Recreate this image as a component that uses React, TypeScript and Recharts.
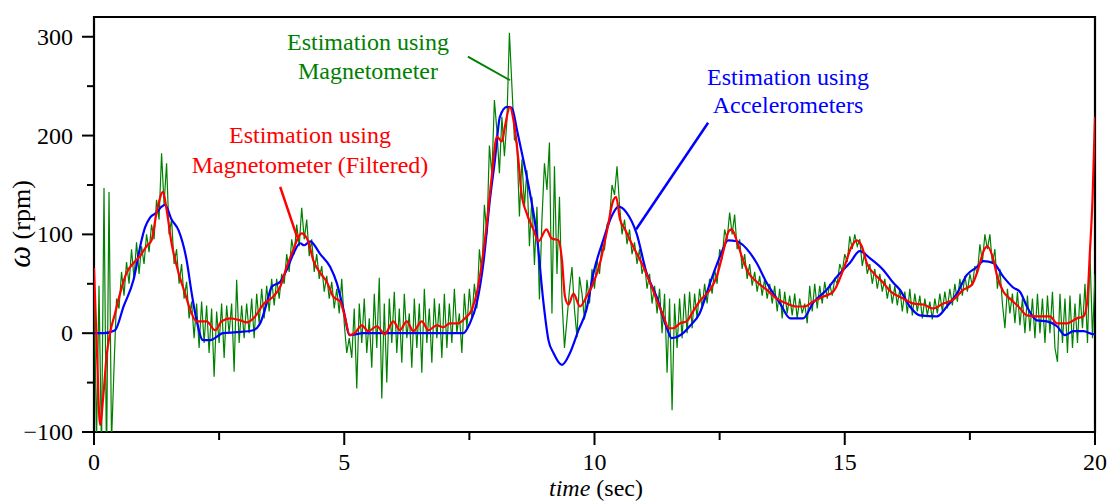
import React from 'react';
import { LineChart, Line, XAxis, YAxis, ReferenceArea, ReferenceLine } from 'recharts';

// Raw magnetometer estimate, sampled every 0.05 s (one array per second of record)
const SAMPLE_STEP = 0.05;
const magRaw00 = [60, -110, 48, -120, 147, -130, 143, -110, -35, 35, 25, 62, 38, 72, 50, 85, 55, 92, 60, 88];
const magRaw01 = [70, 100, 82, 110, 95, 135, 115, 182, 130, 172, 100, 115, 70, 85, 50, 70, 35, 52, 15, 32];
const magRaw02 = [-5, 30, -15, 32, -10, 28, -20, 25, -44, 22, -10, 30, -25, 28, 0, 30, -39, 54, -10, 28];
const magRaw03 = [-5, 30, 0, 35, -5, 40, 10, 45, 15, 48, 22, 55, 28, 55, 35, 60, 50, 80, 62, 95];
const magRaw04 = [80, 110, 88, 127, 95, 115, 78, 95, 62, 80, 55, 68, 42, 58, 35, 52, 25, 45, 20, 55];
const magRaw05 = [10, -20, -5, -25, 25, -56, 30, -10, 35, -20, 15, -35, 40, -15, 56, -66, 30, -50, 35, -10];
const magRaw06 = [42, -20, 25, -30, 40, -5, 20, -35, 35, -15, 30, -40, 45, -10, 25, -30, 35, -5, 30, -25];
const magRaw07 = [40, -15, 30, -10, 45, 0, 20, -20, 40, 5, 45, 15, 50, 25, 85, 60, 130, 100, 190, 160];
const magRaw08 = [236, 205, 162, 219, 179, 215, 304, 250, 196, 193, 118, 176, 128, 165, 88, 138, 69, 128, 34, 115];
const magRaw09 = [172, 145, 193, 20, 169, 60, 138, 34, -15, 14, 44, 67, 24, -4, 57, 40, 14, 54, 30, 65];
const magRaw10 = [45, 75, 60, 90, 85, 110, 115, 150, 140, 169, 130, 100, 115, 90, 105, 80, 92, 70, 85, 60];
const magRaw11 = [70, 45, 60, 30, 48, 20, 45, 0, 40, -40, 35, -78, 30, -15, 35, -5, 40, 0, 42, 5];
const magRaw12 = [40, 15, 45, 25, 50, 30, 55, 40, 65, 50, 85, 75, 105, 95, 122, 100, 120, 85, 95, 65];
const magRaw13 = [80, 55, 70, 48, 62, 42, 58, 38, 55, 35, 50, 30, 48, 22, 45, 15, 42, 20, 38, 18];
const magRaw14 = [40, 15, 35, 20, 30, 10, 48, 22, 50, 25, 48, 30, 52, 35, 50, 38, 55, 50, 70, 62];
const magRaw15 = [80, 72, 98, 85, 100, 88, 95, 68, 82, 60, 70, 50, 65, 45, 60, 42, 55, 35, 50, 30];
const magRaw16 = [48, 28, 45, 22, 42, 20, 45, 18, 40, 22, 38, 15, 35, 18, 32, 14, 35, 20, 40, 22];
const magRaw17 = [42, 25, 45, 28, 50, 32, 55, 38, 58, 42, 60, 48, 68, 60, 90, 72, 100, 85, 100, 70];
const magRaw18 = [85, 45, 65, 30, 5, 45, 20, 40, 10, 42, 8, 35, 0, 38, 2, 35, -5, 40, 0, 35];
const magRaw19 = [-10, 38, 0, 42, -15, -29, 40, -10, 35, -20, 38, -15, 30, -10, 40, 5, 50, -10, 81, -5];
const magRawFinal = 60;

// Filtered magnetometer estimate
const filtTime = [
  0, 0.06, 0.12, 0.19, 0.25, 0.32, 0.42, 0.52, 0.65, 0.79, 0.92, 1.05, 1.15, 1.25, 1.38, 1.45, 1.55, 1.69, 1.82, 1.92,
  2.05, 2.25, 2.42, 2.55, 2.72, 2.92, 3.05, 3.22, 3.38, 3.58, 3.72, 3.85, 3.98, 4.08, 4.15, 4.28, 4.38, 4.52, 4.65, 4.78,
  4.92, 5.01, 5.11, 5.21, 5.35, 5.48, 5.65, 5.81, 5.98, 6.11, 6.25, 6.38, 6.55, 6.68, 6.85, 6.98, 7.11, 7.28, 7.41, 7.55,
  7.65, 7.75, 7.85, 7.95, 8.05, 8.15, 8.21, 8.31, 8.38, 8.48, 8.54, 8.64, 8.78, 8.88, 9.04, 9.14, 9.28, 9.35, 9.41, 9.48,
  9.58, 9.71, 9.84, 9.98, 10.11, 10.24, 10.38, 10.43, 10.51, 10.61, 10.71, 10.84, 10.98, 11.11, 11.24, 11.38, 11.48, 11.57, 11.71, 11.84,
  11.97, 12.11, 12.31, 12.44, 12.58, 12.68, 12.74, 12.84, 12.94, 13.08, 13.24, 13.44, 13.64, 13.84, 14.04, 14.2, 14.37, 14.57, 14.77, 14.97,
  15.14, 15.24, 15.34, 15.44, 15.61, 15.77, 15.9, 16.17, 16.37, 16.57, 16.77, 16.97, 17.17, 17.37, 17.54, 17.68, 17.78, 17.85, 17.95, 18.05,
  18.17, 18.3, 18.47, 18.64, 18.84, 19.1, 19.24, 19.44, 19.64, 19.77, 19.84, 19.9, 19.95, 20,
];
const filtOmega = [
  66, -20, -93, -61, -24, 0, 20, 40, 61, 71, 78, 88, 94, 122, 143, 125, 91, 61, 40, 24,
  12, 12, 3, 12, 15, 13, 11, 17, 29, 37, 47, 67, 84, 97, 101, 93, 74, 61, 52, 37,
  32, 17, -2, 0, 8, 2, 7, -1, 12, 3, 12, 2, 12, 3, 8, 6, 10, 10, 15, 24,
  41, 71, 112, 160, 199, 194, 209, 229, 216, 175, 142, 122, 105, 93, 105, 96, 94, 74, 37, 29,
  40, 27, 37, 51, 71, 101, 135, 138, 115, 105, 94, 81, 67, 51, 34, 17, 5, 5, 10, 12,
  22, 33, 44, 57, 84, 103, 105, 94, 78, 61, 52, 44, 35, 30, 27, 27, 32, 37, 42, 64,
  88, 94, 88, 71, 59, 51, 43, 35, 30, 29, 25, 30, 34, 44, 49, 67, 84, 88, 78, 57,
  42, 35, 27, 18, 17, 17, 10, 10, 15, 17, 30, 84, 135, 219,
];

// Accelerometer-based estimate
const accTime = [
  0, 0.2, 0.42, 0.59, 0.79, 0.95, 1.02, 1.12, 1.25, 1.35, 1.42, 1.55, 1.69, 1.85, 1.95, 2.05, 2.18, 2.32, 2.58, 2.85,
  3.18, 3.32, 3.45, 3.55, 3.72, 3.85, 3.98, 4.12, 4.2, 4.32, 4.52, 4.72, 4.85, 4.98, 5.11, 5.38, 6, 6.5, 7, 7.38,
  7.51, 7.65, 7.78, 7.91, 8.01, 8.11, 8.25, 8.35, 8.45, 8.58, 8.71, 8.85, 8.98, 9.08, 9.18, 9.35, 9.51, 9.68, 9.84, 9.98,
  10.18, 10.34, 10.48, 10.64, 10.84, 11.04, 11.24, 11.44, 11.54, 11.77, 11.9, 12.1, 12.31, 12.51, 12.67, 12.84, 13.11, 13.24, 13.44, 13.71,
  13.91, 14.17, 14.37, 14.64, 14.84, 15.1, 15.3, 15.5, 15.77, 15.97, 16.1, 16.3, 16.5, 16.84, 17.04, 17.24, 17.44, 17.64, 17.77, 17.97,
  18.17, 18.37, 18.5, 18.64, 18.84, 19.04, 19.24, 19.4, 19.57, 19.77, 19.97, 20,
];
const accOmega = [
  0, 0, 3, 27, 54, 94, 107, 117, 122, 128, 130, 115, 104, 74, 41, 13, -7, -7, 0, 1,
  3, 10, 30, 47, 52, 64, 80, 91, 89, 93, 80, 67, 51, 25, -2, 0, 0, 0, 0, 0,
  10, 31, 71, 135, 175, 219, 229, 228, 206, 175, 142, 98, 31, -7, -20, -32, -20, 3, 24, 61,
  95, 118, 128, 122, 101, 61, 37, 6, -5, 0, 7, 20, 51, 78, 94, 93, 81, 71, 51, 30,
  15, 15, 31, 44, 57, 71, 83, 76, 64, 51, 44, 27, 18, 17, 27, 40, 59, 67, 73, 71,
  57, 46, 42, 27, 13, 12, 7, -2, 2, 2, -1, -1,
];

// Axis ticks
const xTicks = [0, 2.5, 5, 7.5, 10, 12.5, 15, 17.5, 20];
const xMajorTicks = [0, 5, 10, 15, 20];
const yTicks = [-100, -50, 0, 50, 100, 150, 200, 250, 300];
const yMajorTicks = [-100, 0, 100, 200, 300];

const magRawSeconds = [
  magRaw00, magRaw01, magRaw02, magRaw03, magRaw04, magRaw05, magRaw06, magRaw07, magRaw08, magRaw09,
  magRaw10, magRaw11, magRaw12, magRaw13, magRaw14, magRaw15, magRaw16, magRaw17, magRaw18, magRaw19,
];
const rawData = magRawSeconds.flatMap((arr, s) =>
  arr.map((w, i) => ({ t: Math.round((s + i * SAMPLE_STEP) * 100) / 100, w }))
);
rawData.push({ t: 20, w: magRawFinal });
const filtData = filtTime.map((t, i) => ({ t, w: filtOmega[i] }));
const accData = accTime.map((t, i) => ({ t, w: accOmega[i] }));

const FONT = '"Liberation Serif", "Times New Roman", Times, serif';
const GREEN = '#008000';
const RED = '#ff0000';
const BLUE = '#0000ff';

const fmt = (v: number) => (v < 0 ? `\u2212${Math.abs(v)}` : `${v}`);

const XTick = (props: any) => {
  const { x, y, payload } = props;
  const major = xMajorTicks.includes(payload.value);
  return (
    <g>
      <line x1={x} x2={x} y1={y} y2={y + (major ? 13 : 8)} stroke="#000" strokeWidth={2} />
      {major && (
        <text x={x} y={y + 38} textAnchor="middle" fontFamily={FONT} fontSize={24} fill="#000">
          {fmt(payload.value)}
        </text>
      )}
    </g>
  );
};

const YTick = (props: any) => {
  const { x, y, payload } = props;
  const major = yMajorTicks.includes(payload.value);
  return (
    <g>
      <line x1={x - (major ? 12 : 7)} x2={x} y1={y} y2={y} stroke="#000" strokeWidth={2} />
      {major && (
        <text x={x - 21} y={y + 8} textAnchor="end" fontFamily={FONT} fontSize={24} fill="#000">
          {fmt(payload.value)}
        </text>
      )}
    </g>
  );
};

export default function App() {
  return (
    <div style={{ position: 'absolute', left: 0, top: 0, width: 1107, height: 502, background: '#fff' }}>
      <LineChart width={1107} height={502} margin={{ top: 17, right: 12, bottom: 0, left: 0 }}>
        <XAxis
          dataKey="t"
          type="number"
          domain={[0, 20]}
          ticks={xTicks}
          interval={0}
          allowDataOverflow
          axisLine={false}
          tickLine={false}
          tickSize={0}
          tickMargin={0}
          height={70}
          tick={<XTick />}
        />
        <YAxis
          type="number"
          domain={[-100, 320]}
          ticks={yTicks}
          interval={0}
          allowDataOverflow
          axisLine={false}
          tickLine={false}
          tickSize={0}
          tickMargin={0}
          width={94}
          tick={<YTick />}
        />
        <Line data={rawData} dataKey="w" type="linear" stroke={GREEN} strokeWidth={1.2} dot={false} activeDot={false} isAnimationActive={false} />
        <Line data={accData} dataKey="w" type="monotone" stroke={BLUE} strokeWidth={2.2} dot={false} activeDot={false} isAnimationActive={false} />
        <Line data={filtData} dataKey="w" type="monotone" stroke={RED} strokeWidth={2.2} dot={false} activeDot={false} isAnimationActive={false} />
        <ReferenceLine segment={[{ x: 7.47, y: 280 }, { x: 8.31, y: 256 }]} stroke={GREEN} strokeWidth={2} ifOverflow="visible" />
        <ReferenceLine segment={[{ x: 3.72, y: 148 }, { x: 4.06, y: 97 }]} stroke={RED} strokeWidth={2.5} ifOverflow="visible" />
        <ReferenceLine segment={[{ x: 12.27, y: 213 }, { x: 10.83, y: 105 }]} stroke={BLUE} strokeWidth={2.5} ifOverflow="visible" />
        <ReferenceArea x1={0} x2={20} y1={-100} y2={320} fill="none" stroke="#000" strokeWidth={2.2} ifOverflow="visible" />
      </LineChart>
      <svg
        width={1107}
        height={502}
        style={{ position: 'absolute', left: 0, top: 0, pointerEvents: 'none' }}
        fontFamily={FONT}
        fontSize={24}
      >
        <text x={368} y={50} textAnchor="middle" fill={GREEN}>Estimation using</text>
        <text x={368} y={79} textAnchor="middle" fill={GREEN}>Magnetometer</text>
        <text x={310} y={143} textAnchor="middle" fill={RED}>Estimation using</text>
        <text x={310} y={173} textAnchor="middle" fill={RED}>Magnetometer (Filtered)</text>
        <text x={788} y={85} textAnchor="middle" fill={BLUE}>Estimation using</text>
        <text x={788} y={113} textAnchor="middle" fill={BLUE}>Accelerometers</text>
        <text x={30} y={224} textAnchor="middle" fill="#000" fontSize={26} transform="rotate(-90 30 224)">
          <tspan fontStyle="italic" fontSize={31}>ω</tspan> (rpm)
        </text>
        <text x={596} y={496} textAnchor="middle" fill="#000" fontSize={24}>
          <tspan fontStyle="italic">time</tspan> (sec)
        </text>
      </svg>
    </div>
  );
}
